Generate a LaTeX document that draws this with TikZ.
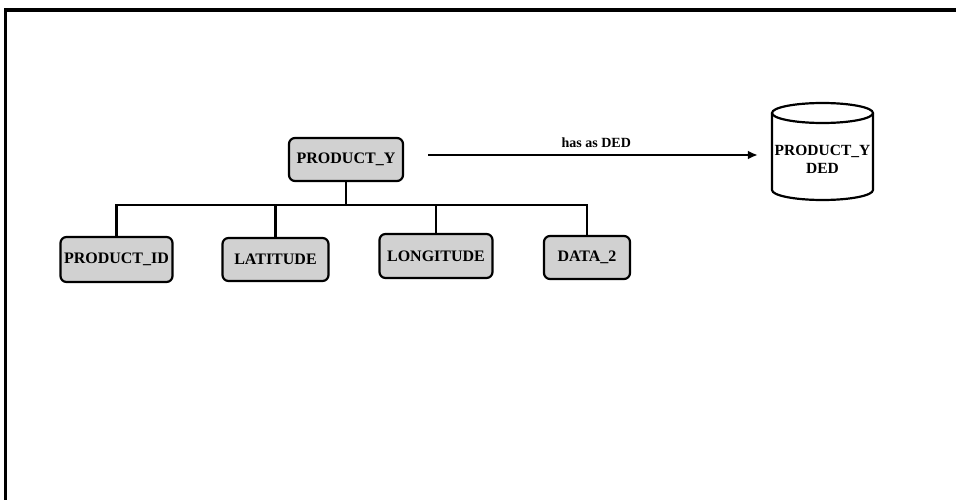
\documentclass[tikz,border=0pt]{standalone}
\usepackage{fontspec}
\setmainfont{Liberation Serif}
\usetikzlibrary{arrows.meta}
\tikzset{
  ent/.style={draw, line width=2.2pt, rounded corners=6pt, fill=black!18,
    inner sep=0pt, font=\fontsize{16}{18}\selectfont\bfseries},
  link/.style={line width=2.2pt},
  rel/.style={line width=2.2pt, -{Latex[length=10pt,width=9pt]}},
  lbl/.style={font=\fontsize{14}{16}\selectfont\bfseries},
}
\begin{document}
\begin{tikzpicture}[x=1pt,y=-1pt]
\useasboundingbox (0,0) rectangle (956,500);
% frame
\draw[line width=3.5pt, line join=miter] (5.5,500) -- (5.5,10) -- (956,10);
% nodes
\node[ent, minimum width=114pt, minimum height=43pt] (py) at (346,159.5) {PRODUCT\_Y};
\node[ent, minimum width=112pt, minimum height=45pt] (pid) at (116.5,259.5) {PRODUCT\_ID};
\node[ent, minimum width=106pt, minimum height=43pt] (lat) at (275.5,259.5) {LATITUDE};
\node[ent, minimum width=113pt, minimum height=44pt] (lon) at (436,256) {LONGITUDE};
\node[ent, minimum width=86pt, minimum height=43pt] (d2) at (587,257.5) {DATA\_2};
% tree
\draw[link] (py.south) -- ++(0,23) coordinate (bus);
\draw[link] (pid.north) |- (bus);
\draw[link] (lat.north) |- (bus);
\draw[link] (lon.north) |- (bus);
\draw[link] (d2.north) |- (bus);
% cylinder
\draw[line width=2.2pt, fill=white] (772,113) -- (772,190) arc[start angle=180, end angle=0, x radius=50.5, y radius=10] -- (873,113);
\draw[line width=2.2pt] (822.5,113) ellipse[x radius=50.5, y radius=10];
\node[font=\fontsize{15.5}{17}\selectfont\bfseries, align=center, inner sep=0pt,
  minimum width=101pt] (ded) at (822.5,159.5) {PRODUCT\_Y\\[1pt]DED};
% relation
\draw[rel] ([xshift=24pt,yshift=4.5pt]py.east) -- node[lbl, above=3pt, pos=0.51] {has as DED} ([xshift=-14pt,yshift=4.5pt]ded.west);
\end{tikzpicture}
\end{document}
